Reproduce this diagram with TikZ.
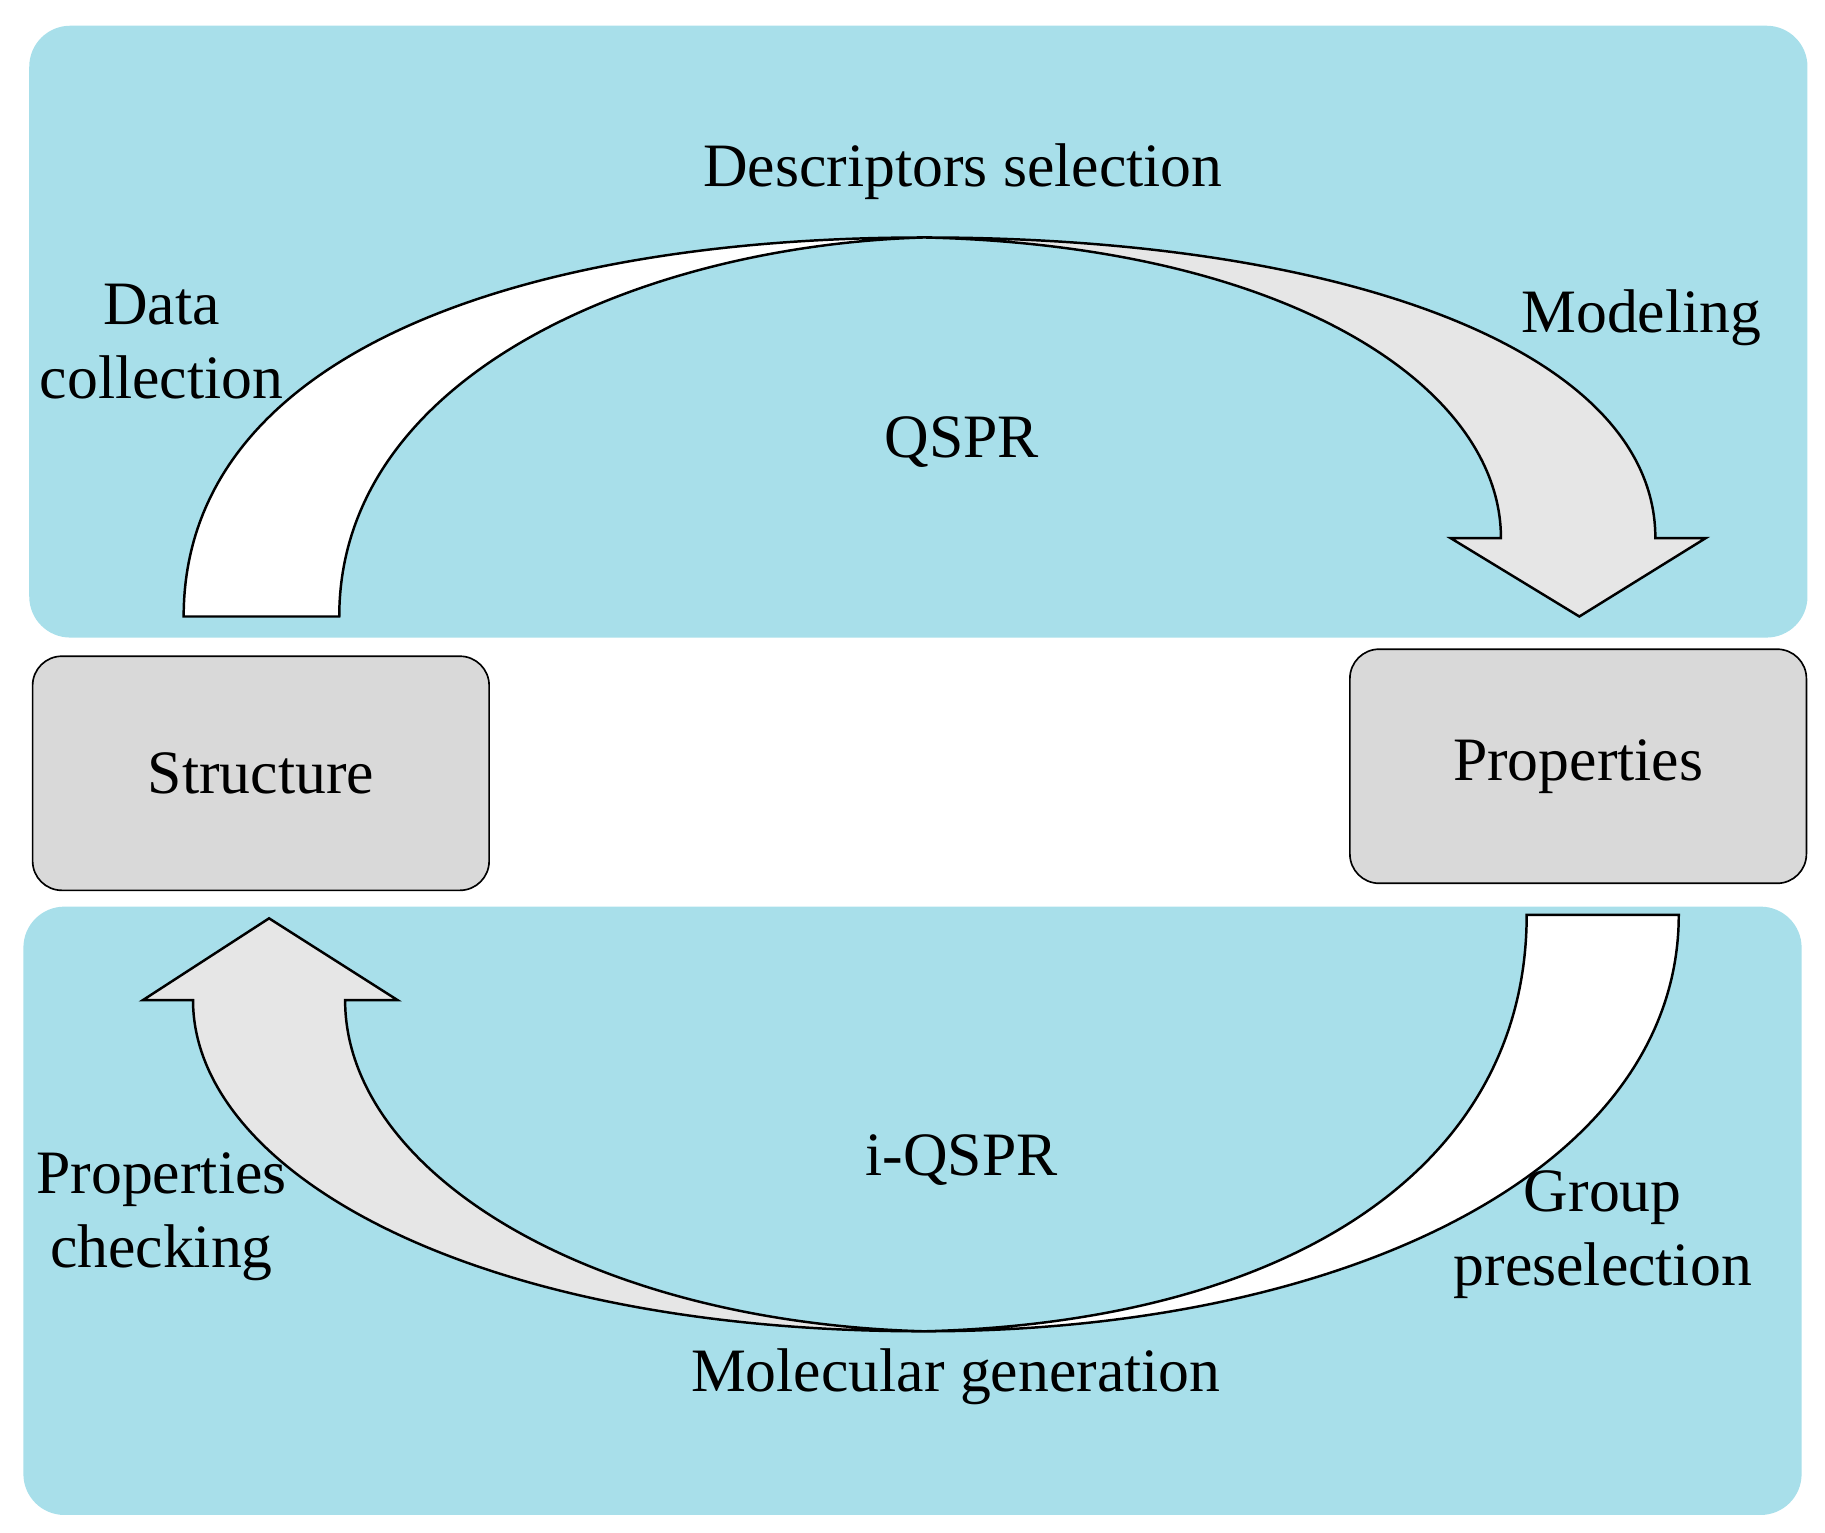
\documentclass[tikz,border=0pt]{standalone}
\usepackage{fontspec}
\setmainfont{Liberation Serif}
\begin{document}
\begin{tikzpicture}[x=0.01cm,y=-0.01cm,
  panel/.style={fill=panelblue, draw=none, rounded corners=0.35cm},
  box/.style={rectangle, draw=black, fill=boxgray, rounded corners=0.25cm, minimum width=3.9cm, minimum height=2.0cm, font=\fontsize{15}{18}\selectfont},
  lbl/.style={font=\fontsize{15}{18}\selectfont, align=center},
  band/.style={draw=black, line width=0.6pt}]
\definecolor{panelblue}{HTML}{A8DFEA}
\definecolor{boxgray}{HTML}{D9D9D9}
\definecolor{bandgray}{HTML}{E6E6E6}
\useasboundingbox (0,0) rectangle (1560,1310);

\fill[panel] (25,22) rectangle (1545,545);
\fill[panel] (20,775) rectangle (1540,1295);

\node[box] (str) at (223,661) {Structure};
\node[box] (prop) at (1349,655) {Properties};

% upper loop
\draw[band, fill=white] (157,527) .. controls (157,300) and (450,203) .. (790,203)
  .. controls (550,210) and (290,320) .. (290,527) -- cycle;
\draw[band, fill=bandgray] (790,203) .. controls (1150,203) and (1415,300) .. (1415,460)
  -- (1458,460) -- (1350,527) -- (1240,460) -- (1283,460)
  .. controls (1283,330) and (1100,210) .. (790,203) -- cycle;

% lower loop
\draw[band, fill=white] (1305,782) -- (1435,782) .. controls (1435,1000) and (1150,1138) .. (790,1138)
  .. controls (1100,1130) and (1305,1000) .. (1305,782) -- cycle;
\draw[band, fill=bandgray] (790,1138) .. controls (400,1138) and (165,1000) .. (165,855)
  -- (122,855) -- (230,785) -- (340,855) -- (295,855)
  .. controls (295,1000) and (500,1130) .. (790,1138) -- cycle;

\node[lbl] (desc) at (823,147) {Descriptors selection};
\node[lbl] (data) at (138,292) {Data\\collection};
\node[lbl] (model) at (1403,272) {Modeling};
\node[lbl] (qspr) at (822,378) {QSPR};
\node[lbl] (iqspr) at (822,992) {i-QSPR};
\node[lbl] (check) at (138,1040) {Properties\\checking};
\node[lbl] (group) at (1370,1055) {Group\\preselection};
\node[lbl] (gen) at (817,1177) {Molecular generation};
\end{tikzpicture}
\end{document}
